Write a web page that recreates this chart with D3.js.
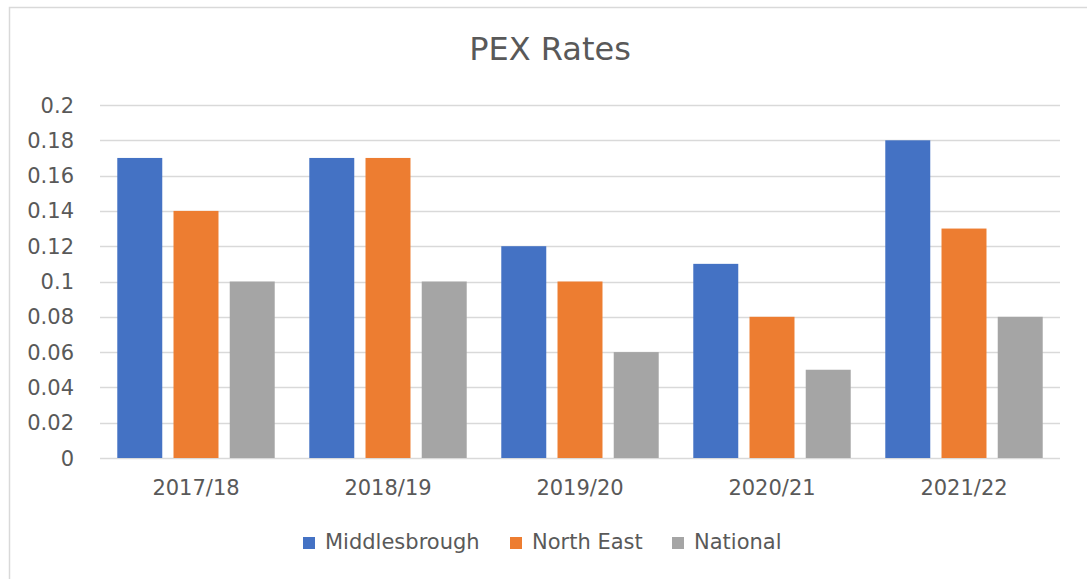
<!DOCTYPE html>
<html lang="en">
<head>
<meta charset="UTF-8">
<title>PEX Rates</title>
<script src="https://d3js.org/d3.v7.min.js"></script>
<style>
    body, html {
        margin: 0;
        background: #ffffff;
        font-family: "DejaVu Sans", Arial, sans-serif;
    }
    svg text {
        fill: #595959;
    }
</style>
</head>
<body>
<svg id="chart"></svg>
<script>
    const years = ["2017/18", "2018/19", "2019/20", "2020/21", "2021/22"];
    const seriesNames = ["Middlesbrough", "North East", "National"];
    const middlesbrough = [0.17, 0.17, 0.12, 0.11, 0.18];
    const northEast = [0.14, 0.17, 0.10, 0.08, 0.13];
    const national = [0.10, 0.10, 0.06, 0.05, 0.08];
    const yTicks = [0, 0.02, 0.04, 0.06, 0.08, 0.1, 0.12, 0.14, 0.16, 0.18, 0.2];
    const colors = ["#4472C4", "#ED7D31", "#A5A5A5"];

    const svgWidth = 1087, svgHeight = 579;
    const margin = { top: 105, right: 27, bottom: 121, left: 100 };

    const svg = d3.select("#chart")
        .attr("width", svgWidth)
        .attr("height", svgHeight);

    // chart frame
    svg.append("rect")
        .attr("x", 9.5).attr("y", 7.5)
        .attr("width", svgWidth + 20).attr("height", svgHeight + 20)
        .attr("fill", "none")
        .attr("stroke", "#d9d9d9")
        .attr("stroke-width", 1.5);

    const table = years.map((y, i) => ({
        year: y,
        values: [middlesbrough[i], northEast[i], national[i]]
    }));

    const x0 = d3.scaleBand()
        .domain(years)
        .range([margin.left, svgWidth - margin.right])
        .paddingInner(0.18)
        .paddingOuter(0.09);

    const x1 = d3.scaleBand()
        .domain(seriesNames)
        .range([0, x0.bandwidth()])
        .paddingInner(0.2);

    const y = d3.scaleLinear()
        .domain([0, 0.2])
        .range([svgHeight - margin.bottom, margin.top]);

    // gridlines
    svg.append("g")
        .selectAll("line")
        .data(yTicks)
        .enter().append("line")
        .attr("x1", margin.left)
        .attr("x2", svgWidth - margin.right)
        .attr("y1", d => Math.round(y(d)) + 0.5)
        .attr("y2", d => Math.round(y(d)) + 0.5)
        .attr("stroke", "#d9d9d9")
        .attr("stroke-width", 1.3);

    // y-axis labels
    svg.append("g")
        .selectAll("text")
        .data(yTicks)
        .enter().append("text")
        .attr("x", 74)
        .attr("y", d => y(d))
        .attr("dy", "0.36em")
        .attr("text-anchor", "end")
        .style("font-size", "21px")
        .text(d => d3.format("")(d));

    // bars
    const groups = svg.append("g")
        .selectAll("g")
        .data(table)
        .enter().append("g")
        .attr("transform", d => `translate(${x0(d.year)},0)`);

    groups.selectAll("rect")
        .data(d => d.values.map((v, i) => ({ name: seriesNames[i], value: v, i: i })))
        .enter().append("rect")
        .attr("x", d => x1(d.name))
        .attr("y", d => y(d.value))
        .attr("width", x1.bandwidth())
        .attr("height", d => y(0) - y(d.value))
        .attr("fill", d => colors[d.i]);

    // x-axis labels
    svg.append("g")
        .selectAll("text")
        .data(years)
        .enter().append("text")
        .attr("x", d => x0(d) + x0.bandwidth() / 2)
        .attr("y", 495)
        .attr("text-anchor", "middle")
        .style("font-size", "21px")
        .text(d => d);

    // title
    svg.append("text")
        .attr("x", 550)
        .attr("y", 60)
        .attr("text-anchor", "middle")
        .style("font-size", "32px")
        .text("PEX Rates");

    // legend
    const legendX = [303, 510, 672];
    const legend = svg.append("g")
        .selectAll("g")
        .data(seriesNames)
        .enter().append("g")
        .attr("transform", (d, i) => `translate(${legendX[i]},537)`);

    legend.append("rect")
        .attr("width", 12)
        .attr("height", 12)
        .attr("fill", (d, i) => colors[i]);

    legend.append("text")
        .attr("x", 22)
        .attr("y", 12)
        .style("font-size", "21px")
        .text(d => d);
</script>
</body>
</html>
